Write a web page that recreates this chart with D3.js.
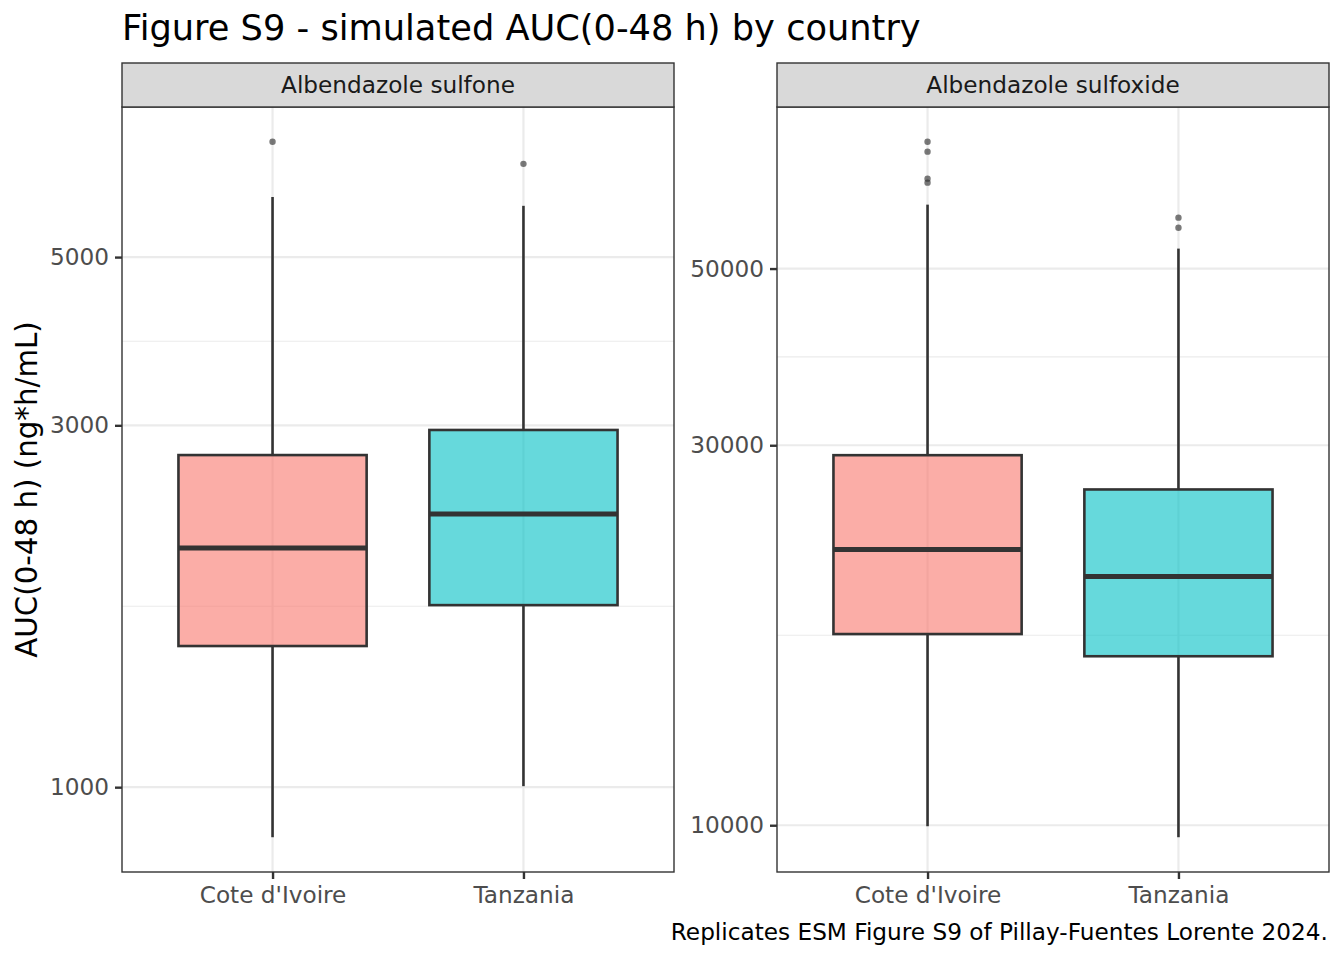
<!DOCTYPE html>
<html>
<head>
<meta charset="utf-8">
<script src="https://cdn.jsdelivr.net/npm/d3@7"></script>
<style>
  body { margin: 0; background: #fff; }
  text { font-family: "DejaVu Sans", sans-serif; }
</style>
</head>
<body>
<svg id="chart" width="1344" height="960"></svg>
<script>
// values
const facets = ["Albendazole sulfone", "Albendazole sulfoxide"];
const countries = ["Cote d'Ivoire", "Tanzania"];
const countryColors = ["#F8766D", "#00BFC4"];

// [lower whisker, Q1, median, Q3, upper whisker]
const sulfoneStats = [
  [859, 1535, 2067, 2741, 6002],
  [1003, 1738, 2292, 2958, 5842]
];
const sulfoneOutliers = [[7096], [6636]];
const sulfoneTicks = [1000, 3000, 5000];

const sulfoxideStats = [
  [9971, 17380, 22200, 29150, 60150],
  [9659, 16300, 20530, 26400, 52970]
];
const sulfoxideOutliers = [[72140, 70110, 64840, 64100], [57930, 56270]];
const sulfoxideTicks = [10000, 30000, 50000];

const panelStats = [sulfoneStats, sulfoxideStats];
const panelOutliers = [sulfoneOutliers, sulfoxideOutliers];
const panelTicks = [sulfoneTicks, sulfoxideTicks];

const W = 1344, H = 960;
const panelLeft = [122, 777];
const panelW = 552;
const stripTop = 63, panelTop = 107, panelBottom = 872;
const ink = "#333333";
const smallFont = 23.2;

const svg = d3.select("#chart");

svg.append("text")
  .attr("x", 122).attr("y", 40)
  .attr("font-size", 35.2).attr("fill", "#000")
  .text("Figure S9 - simulated AUC(0-48 h) by country");

svg.append("text")
  .attr("transform", "translate(37," + (panelTop + panelBottom) / 2 + ") rotate(-90)")
  .attr("text-anchor", "middle")
  .attr("font-size", 29.3).attr("fill", "#000")
  .text("AUC(0-48 h) (ng*h/mL)");

svg.append("text")
  .attr("x", 1328).attr("y", 940)
  .attr("text-anchor", "end")
  .attr("font-size", smallFont).attr("fill", "#000")
  .text("Replicates ESM Figure S9 of Pillay-Fuentes Lorente 2024.");

facets.forEach(function(facet, p) {
  const stats = panelStats[p];
  const outliers = panelOutliers[p];
  const ticks = panelTicks[p];
  const x0 = panelLeft[p];

  // log domain with 5% expansion like ggplot
  const allVals = d3.merge([d3.merge(stats), d3.merge(outliers)]);
  const lo = Math.log10(d3.min(allVals)), hi = Math.log10(d3.max(allVals));
  const pad = (hi - lo) * 0.05;
  const y = d3.scaleLog()
    .domain([Math.pow(10, lo - pad), Math.pow(10, hi + pad)])
    .range([panelBottom, panelTop]);

  // discrete x with 0.6 expansion
  const unit = panelW / (countries.length - 1 + 1.2);
  const x = d3.scalePoint()
    .domain(countries)
    .range([x0 + 0.6 * unit, x0 + panelW - 0.6 * unit]);
  const boxW = 0.75 * unit;

  const g = svg.append("g");

  // minor grid at log midpoints
  const minors = d3.pairs(ticks).map(function(d) { return Math.sqrt(d[0] * d[1]); });
  g.selectAll(".minor").data(minors).enter().append("line")
    .attr("x1", x0).attr("x2", x0 + panelW)
    .attr("y1", function(d) { return y(d); }).attr("y2", function(d) { return y(d); })
    .attr("stroke", "#EBEBEB").attr("stroke-width", 1.1);

  g.selectAll(".major").data(ticks).enter().append("line")
    .attr("x1", x0).attr("x2", x0 + panelW)
    .attr("y1", function(d) { return y(d); }).attr("y2", function(d) { return y(d); })
    .attr("stroke", "#EBEBEB").attr("stroke-width", 2.2);

  g.selectAll(".vgrid").data(countries).enter().append("line")
    .attr("x1", function(d) { return x(d); }).attr("x2", function(d) { return x(d); })
    .attr("y1", panelTop).attr("y2", panelBottom)
    .attr("stroke", "#EBEBEB").attr("stroke-width", 2.2);

  // boxplots
  countries.forEach(function(c, i) {
    const s = stats[i];
    const cx = x(c);
    g.append("line")
      .attr("x1", cx).attr("x2", cx)
      .attr("y1", y(s[3])).attr("y2", y(s[4]))
      .attr("stroke", ink).attr("stroke-width", 2.6);
    g.append("line")
      .attr("x1", cx).attr("x2", cx)
      .attr("y1", y(s[0])).attr("y2", y(s[1]))
      .attr("stroke", ink).attr("stroke-width", 2.6);
    g.append("rect")
      .attr("x", cx - boxW / 2).attr("width", boxW)
      .attr("y", y(s[3])).attr("height", y(s[1]) - y(s[3]))
      .attr("fill", countryColors[i]).attr("fill-opacity", 0.6)
      .attr("stroke", ink).attr("stroke-width", 2.6);
    g.append("line")
      .attr("x1", cx - boxW / 2).attr("x2", cx + boxW / 2)
      .attr("y1", y(s[2])).attr("y2", y(s[2]))
      .attr("stroke", ink).attr("stroke-width", 5);
    g.selectAll(".out" + i).data(outliers[i]).enter().append("circle")
      .attr("cx", cx).attr("cy", function(d) { return y(d); })
      .attr("r", 3.2)
      .attr("fill", ink).attr("fill-opacity", 0.65);
  });

  // panel border
  g.append("rect")
    .attr("x", x0).attr("y", panelTop)
    .attr("width", panelW).attr("height", panelBottom - panelTop)
    .attr("fill", "none").attr("stroke", ink).attr("stroke-width", 1.4);

  // strip
  g.append("rect")
    .attr("x", x0).attr("y", stripTop)
    .attr("width", panelW).attr("height", panelTop - stripTop)
    .attr("fill", "#D9D9D9").attr("stroke", ink).attr("stroke-width", 1.4);
  g.append("text")
    .attr("x", x0 + panelW / 2).attr("y", (stripTop + panelTop) / 2 + 8.3)
    .attr("text-anchor", "middle")
    .attr("font-size", smallFont).attr("fill", "#1A1A1A")
    .text(facet);

  // axes
  const yAxis = svg.append("g")
    .attr("transform", "translate(" + x0 + ",0)")
    .call(d3.axisLeft(y).tickValues(ticks).tickFormat(d3.format("d")).tickSize(7).tickPadding(6));
  const xAxis = svg.append("g")
    .attr("transform", "translate(0," + panelBottom + ")")
    .call(d3.axisBottom(x).tickSize(7).tickPadding(8));
  [yAxis, xAxis].forEach(function(a) {
    a.select(".domain").remove();
    a.selectAll(".tick line").attr("stroke", ink).attr("stroke-width", 2.4);
    a.selectAll(".tick text")
      .attr("font-family", "DejaVu Sans, sans-serif")
      .attr("font-size", smallFont).attr("fill", "#4D4D4D");
  });
});
</script>
</body>
</html>
